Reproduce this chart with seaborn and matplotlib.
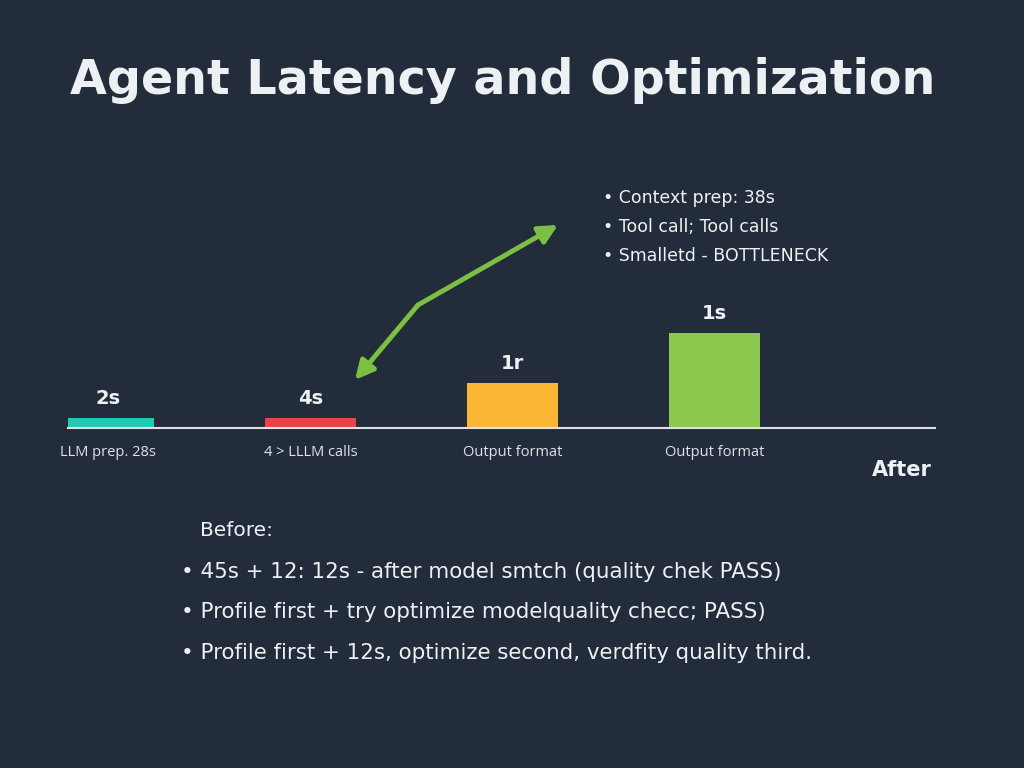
import pandas as pd
import seaborn as sns
import matplotlib.pyplot as plt

# bar data
steps = ['LLM prep. 28s', '4 > LLLM calls', 'Output format', 'Output format ']
heights = [0.5, 0.5, 2.25, 4.75]
value_labels = ['2s', '4s', '1r', '1s']
bar_colors = ['#22c9b2', '#e8424b', '#fbb733', '#8cc84b']

notes_top = ['Context prep: 38s', 'Tool call; Tool calls', 'Smalletd - BOTTLENECK']
before_lines = ['45s + 12: 12s - after model smtch (quality chek PASS)',
                'Profile first + try optimize modelquality checc; PASS)',
                'Profile first + 12s, optimize second, verdfity quality third.']

bg = '#232c3a'
fg = '#eef1f4'

sns.set_theme(style='dark')
plt.rcParams['font.family'] = ['Open Sans', 'DejaVu Sans']
wide = ['DejaVu Sans']

df = pd.DataFrame({'step': steps, 'height': heights})

fig = plt.figure(figsize=(10.24, 7.68), dpi=100, facecolor=bg)
ax = fig.add_axes([68 / 1024, 1 - 428 / 768, 867 / 1024, 200 / 768])
ax.set_facecolor(bg)

sns.barplot(data=df, x='step', y='height', hue='step', palette=bar_colors,
            legend=False, width=0.45, saturation=1, linewidth=0, ax=ax)

for cont, lab in zip(ax.containers, value_labels):
    ax.bar_label(cont, labels=[lab], padding=7, color=fg, fontsize=14,
                 fontweight='bold', family=wide)

ax.set_xlim(-0.2, 4.09)
ax.set_ylim(0, 10)
ax.set_xlabel('')
ax.set_ylabel('')
ax.set_yticks([])
ax.set_xticks(range(len(steps)))
ax.set_xticklabels([s.strip() for s in steps], color='#dfe3e8', fontsize=10.5)
ax.tick_params(axis='x', length=0, pad=12)
for side in ['top', 'left', 'right']:
    ax.spines[side].set_visible(False)
ax.spines['bottom'].set_color('#dfe3e8')
ax.spines['bottom'].set_linewidth(1.5)
ax.grid(False)

# title
fig.text(70 / 1024, 1 - 80 / 768, 'Agent Latency and Optimization', color=fg,
         fontsize=34.3, fontweight='bold', va='center', ha='left', family=wide)

# green double arrow
bend = (418 / 1024, 1 - 305 / 768)
for end in [(355 / 1024, 1 - 380 / 768), (558 / 1024, 1 - 225 / 768)]:
    fig.add_artist(plt.matplotlib.patches.FancyArrowPatch(
        bend, end, transform=fig.transFigure, arrowstyle='-|>',
        mutation_scale=28, color='#7cc043', lw=3.5, shrinkA=0, shrinkB=0))

# top right notes
for i, t in enumerate(notes_top):
    fig.text(603 / 1024, 1 - (198 + 29 * i) / 768, '\u2022 ' + t, color=fg,
             fontsize=12.5, va='center', ha='left', family=wide)

fig.text(932 / 1024, 1 - 470 / 768, 'After', color=fg, fontsize=15,
         fontweight='bold', va='center', ha='right', family=wide)

fig.text(200 / 1024, 1 - 531 / 768, 'Before:', color=fg, fontsize=14.5,
         va='center', ha='left', family=wide)
for i, t in enumerate(before_lines):
    fig.text(181 / 1024, 1 - (572 + 40.5 * i) / 768, '\u2022 ' + t, color=fg,
             fontsize=15.4, va='center', ha='left', family=wide)

fig.savefig('out.png', dpi=100, facecolor=bg)
